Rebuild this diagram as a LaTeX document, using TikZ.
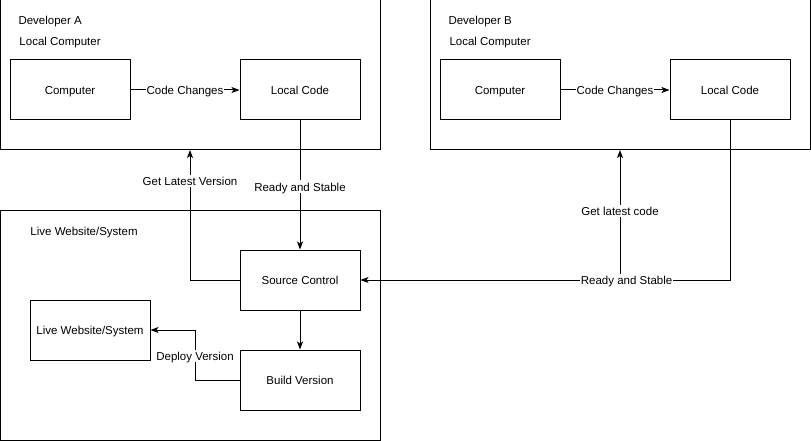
\documentclass[tikz,border=0pt]{standalone}
\usepackage{fontspec}
\setmainfont{Liberation Sans}
\usetikzlibrary{arrows.meta}
\begin{document}
\begin{tikzpicture}[x=1pt,y=-1pt,line width=1pt,
  every node/.style={font=\fontsize{11.5}{13}\selectfont,text height=10pt,text depth=0.5pt},
  box/.style={draw,rectangle,minimum width=120pt,minimum height=60pt,inner sep=0pt},
  frame/.style={draw,rectangle,inner sep=0pt},
  lbl/.style={fill=white,inner sep=1pt},
  txt/.style={anchor=west,inner sep=0pt},
  arr/.style={-{Stealth[length=8pt,width=6pt,inset=2pt]}}]
\useasboundingbox (0,0) rectangle (811,441);
% frames
\node[frame,minimum width=380pt,minimum height=150pt] (devA) at (190,75) {};
\node[frame,minimum width=380pt,minimum height=150pt] (devB) at (620,75) {};
\node[frame,minimum width=380pt,minimum height=230pt] (live) at (190,325) {};
\node[txt] (tA1) at (18,20) {Developer A};
\node[txt] (tA2) at (19,41) {Local Computer};
\node[txt] (tB1) at (448,20) {Developer B};
\node[txt] (tB2) at (449,41) {Local Computer};
\node[txt] (tL) at (30,231) {Live Website/System};
% boxes
\node[box] (compA) at (70,90) {Computer};
\node[box] (codeA) at (300,90) {Local Code};
\node[box] (compB) at (500,90) {Computer};
\node[box] (codeB) at (730,90) {Local Code};
\node[box] (src) at (300,280) {Source Control};
\node[box] (build) at (300,380) {Build Version};
\node[box] (site) at (90,330) {Live Website/System};
% connectors
\draw[arr] (compA) -- node[lbl] {Code Changes} (codeA);
\draw[arr] (compB) -- node[lbl] {Code Changes} (codeB);
\draw[arr] (codeA) -- node[lbl,pos=0.51] {Ready and Stable} (src);
\coordinate (gA) at (190,150);
\draw[arr] (src.west) -| node[lbl,pos=0.88] {Get Latest Version} (gA);
\draw[arr] (src) -- (build);
\coordinate (dv) at (195,380);
\draw[arr] (build.west) -- (dv) |- node[lbl,pos=0.24] {Deploy Version} (site.east);
\coordinate (gB) at (620,150);
\coordinate (gB0) at (620,280);
\draw[arr] (gB0) -- node[lbl,pos=0.53] {Get latest code} (gB);
\draw[arr] (codeB.south) |- node[lbl,pos=0.64] {Ready and Stable} (src.east);
\end{tikzpicture}
\end{document}
